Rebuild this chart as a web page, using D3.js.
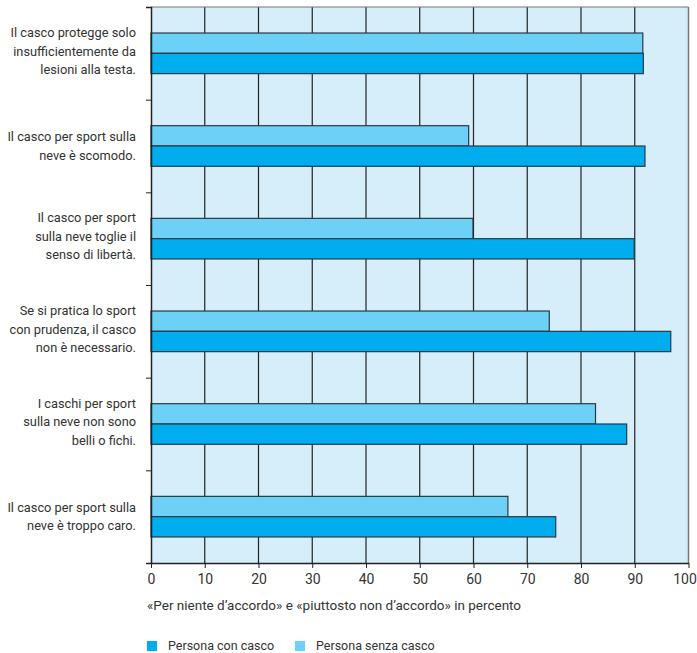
<!DOCTYPE html>
<html><head><meta charset="utf-8">
<script src="https://cdn.jsdelivr.net/npm/d3@7"></script>
<style>body{margin:0;background:#fff;} text{font-family:Roboto,sans-serif;fill:#333;}</style>
</head><body><svg id="c" width="697" height="653"></svg>
<script>
const categories = [
  ["Il casco protegge solo","insufficientemente da","lesioni alla testa."],
  ["Il casco per sport sulla","neve è scomodo."],
  ["Il casco per sport","sulla neve toglie il","senso di libertà."],
  ["Se si pratica lo sport","con prudenza, il casco","non è necessario."],
  ["I caschi per sport","sulla neve non sono","belli o fichi."],
  ["Il casco per sport sulla","neve è troppo caro."]
];
const senzaCasco = [91.5, 59.1, 59.9, 74.1, 82.7, 66.4];
const conCasco   = [91.6, 91.9, 89.9, 96.7, 88.5, 75.3];
const ticks = [0,10,20,30,40,50,60,70,80,90,100];
const seriesNames = ["Persona con casco","Persona senza casco"];
const colors = {con:"#00adee", senza:"#6dd0f7"};

const svg = d3.select("#c");
const L=151, R=688.5, T=7, B=563;
const x = d3.scaleLinear().domain([0,100]).range([L,R]);
const y = d3.scaleBand().domain(d3.range(categories.length)).range([T,B]);

svg.append("rect").attr("x",L).attr("y",T).attr("width",R-L).attr("height",B-T).attr("fill","#d6edfa");

svg.append("g").selectAll("line").data(ticks.slice(1,-1)).join("line")
  .attr("x1",d=>x(d)).attr("x2",d=>x(d)).attr("y1",T).attr("y2",B)
  .attr("stroke","#222").attr("stroke-width",1.2);

svg.append("line").attr("x1",R).attr("x2",R).attr("y1",T).attr("y2",B).attr("stroke","#777").attr("stroke-width",1.5);
svg.append("line").attr("x1",L).attr("x2",R).attr("y1",T).attr("y2",T).attr("stroke","#777").attr("stroke-width",1);

const bh = 20.3;
const g = svg.append("g");
g.selectAll("rect.s").data(senzaCasco).join("rect").attr("class","s")
  .attr("x",L).attr("y",(d,i)=>y(i)+y.bandwidth()/2-bh).attr("width",d=>x(d)-L).attr("height",bh)
  .attr("fill",colors.senza).attr("stroke","#2b3a42").attr("stroke-width",1.2);
g.selectAll("rect.c").data(conCasco).join("rect").attr("class","c")
  .attr("x",L).attr("y",(d,i)=>y(i)+y.bandwidth()/2).attr("width",d=>x(d)-L).attr("height",bh)
  .attr("fill",colors.con).attr("stroke","#2b3a42").attr("stroke-width",1.2);

const xa = svg.append("g").attr("transform",`translate(0,${B})`)
  .call(d3.axisBottom(x).tickValues(ticks).tickSize(5).tickSizeOuter(0));
xa.select(".domain").attr("stroke","#222").attr("stroke-width",1.5);
xa.selectAll(".tick line").attr("stroke","#222");
xa.selectAll("text").attr("font-size",14).attr("dy","0.95em").attr("fill","#333").attr("font-family","Roboto");
xa.selectAll(".tick").filter(d=>d===100).select("text").attr("dx",-4);

const ya = svg.append("g").attr("transform",`translate(${L},0)`)
  .call(d3.axisLeft(d3.scaleLinear().domain([0,categories.length]).range([T,B])).ticks(categories.length).tickSize(5).tickFormat(""));
ya.select(".domain").attr("stroke","#222").attr("stroke-width",1.5);
ya.selectAll(".tick line").attr("stroke","#222");

const lh = 18.5;
categories.forEach((lines,i)=>{
  const cy = y(i)+y.bandwidth()/2;
  const off = lines.length===3 ? 2.2 : 4.5;
  const t = svg.append("text").attr("text-anchor","end").attr("font-size",12.8).attr("x",136);
  lines.forEach((s,j)=>{
    t.append("tspan").attr("x",136).attr("y",cy+(j-(lines.length-1)/2)*lh+off).text(s);
  });
});

svg.append("text").attr("x",147).attr("y",610).attr("font-size",13.5).text("«Per niente d’accordo» e «piuttosto non d’accordo» in percento");

const leg = [{n:seriesNames[0],c:colors.con,x:147},{n:seriesNames[1],c:colors.senza,x:295}];
leg.forEach(d=>{
  svg.append("rect").attr("x",d.x).attr("y",641).attr("width",10).attr("height",10).attr("fill",d.c);
  svg.append("text").attr("x",d.x+21).attr("y",650).attr("font-size",12.5).text(d.n);
});
</script></body></html>
